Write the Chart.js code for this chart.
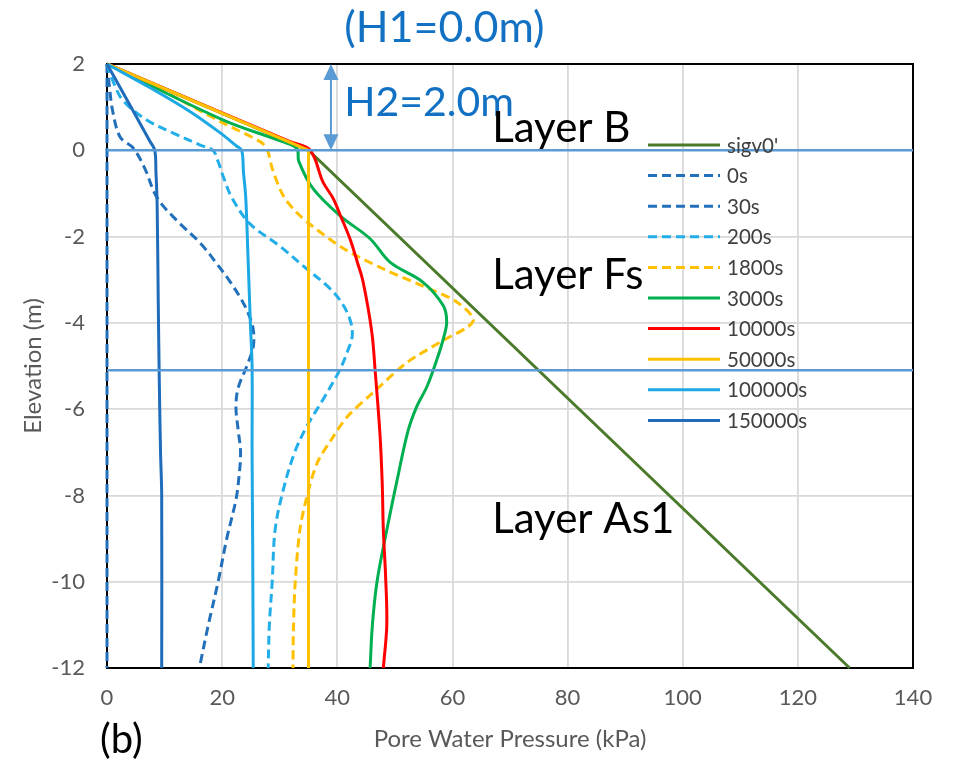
<!DOCTYPE html>
<html>
<head>
<meta charset="utf-8">
<script src="https://cdn.jsdelivr.net/npm/chart.js@4.4.0/dist/chart.umd.min.js"></script>
<style>
  html, body { margin: 0; padding: 0; background: #ffffff; }
  canvas { display: block; }
</style>
</head>
<body>
<canvas id="chart" width="953" height="766"></canvas>
<script>
// Pore water pressure profiles: [pressure kPa, elevation m]
const sigv0 = [[0, 2], [35, 0], [129, -12]];
const t0s = [[0, 2], [0, -12]];
const t30s = [[0, 2], [0.4, 1.5], [1.0, 0.9], [2.3, 0.3], [4.5, 0.06], [6.5, -0.4], [8.7, -1.1], [12.3, -1.65],
  [16.2, -2.15], [19.2, -2.65], [21.4, -3.05], [23.3, -3.45], [24.6, -3.8], [25.4, -4.15], [25.4, -4.55],
  [24.3, -5.0], [22.8, -5.5], [22.4, -5.95], [22.8, -6.5], [23.2, -7.0], [22.9, -7.6], [22.4, -8.1],
  [20.8, -9.0], [19.3, -10.0], [17.6, -11.0], [16.2, -11.9]];
const t200s = [[0, 2], [1.2, 1.55], [2.8, 1.15], [6.9, 0.7], [11.5, 0.4], [16.2, 0.12], [18.4, 0.0],
  [19.3, -0.26], [20.3, -0.65], [21.7, -1.1], [24.8, -1.7], [29.8, -2.2], [34.7, -2.75], [38.3, -3.15],
  [40.6, -3.5], [42.2, -3.92], [42.6, -4.3], [41.8, -4.65], [40.4, -5.1], [37.5, -5.78], [34.7, -6.4],
  [32.6, -7.0], [30.6, -7.88], [29.2, -8.8], [28.7, -10.0], [28.2, -11.0], [28.0, -12.0]];
const t1800s = [[0, 2], [8.7, 1.45], [20.2, 0.63], [26.6, 0.2], [27.8, 0.03], [28.7, -0.42], [30.6, -1.05],
  [33.0, -1.45], [35.3, -1.72], [41.0, -2.27], [48.0, -2.75], [54.9, -3.15], [60.8, -3.52], [63.6, -3.96],
  [57.8, -4.45], [52.1, -4.92], [46.2, -5.62], [41.7, -6.18], [39.0, -6.7], [36.5, -7.25], [34.7, -8.04],
  [33.5, -8.8], [32.7, -10.0], [32.4, -11.0], [32.3, -12.0]];
const t3000s = [[0, 2], [20.2, 0.7], [30.5, 0.2], [33.0, 0.04], [33.3, -0.25], [35.8, -0.89], [40.5, -1.52],
  [45.7, -2.05], [49.2, -2.6], [54.9, -3.06], [58.4, -3.6], [59.0, -3.98], [58.4, -4.38], [57.3, -4.85],
  [55.6, -5.47], [53.8, -5.94], [52.3, -6.5], [50.4, -7.64], [48.6, -8.8], [46.9, -10.0], [46.1, -11.0],
  [45.7, -12.0]];
const t10000s = [[0, 2], [31.8, 0.2], [35.3, 0], [37.5, -0.73], [39.3, -1.12], [40.5, -1.5], [42.2, -2.05],
  [43.5, -2.6], [44.5, -3.06], [46.0, -4.22], [46.6, -5.15], [47.4, -6.55], [47.8, -7.7], [48.0, -8.8],
  [48.4, -9.9], [48.6, -11.0], [48.0, -12.0]];
const t50000s = [[0, 2], [35, 0], [35, -12]];
const t100000s = [[0, 2], [7.5, 1.45], [14.4, 0.9], [19.5, 0.42], [22.5, 0.1], [23.4, 0.0], [23.7, -0.5],
  [24.1, -1.1], [24.5, -2.5], [24.9, -4.0], [25.2, -5.0], [25.2, -7.0], [25.3, -9.0], [25.4, -12.0]];
const t150000s = [[0, 2], [7.5, 0.2], [8.3, 0], [8.5, -0.5], [8.7, -1.2], [8.9, -3.5], [9.1, -5.5],
  [9.3, -7.0], [9.5, -8.0], [9.5, -12.0]];

// Layer boundaries (elevation, m)
const layerBounds = [0, -5.1];

// Axis ranges and ticks
const xTicks = [0, 20, 40, 60, 80, 100, 120, 140];
const yTicks = [2, 0, -2, -4, -6, -8, -10, -12];

// Series styling
const seriesList = [
  { label: "sigv0'",  pts: sigv0,    color: '#4B7A2A', dash: [],     tension: 0 },
  { label: '0s',      pts: t0s,      color: '#2270BA', dash: [9, 5], tension: 0 },
  { label: '30s',     pts: t30s,     color: '#2270BA', dash: [9, 5], tension: 0.35 },
  { label: '200s',    pts: t200s,    color: '#22AEE8', dash: [9, 5], tension: 0.35 },
  { label: '1800s',   pts: t1800s,   color: '#FFC000', dash: [9, 5], tension: 0.3 },
  { label: '3000s',   pts: t3000s,   color: '#00B050', dash: [],     tension: 0.35 },
  { label: '10000s',  pts: t10000s,  color: '#FF0000', dash: [],     tension: 0.35 },
  { label: '50000s',  pts: t50000s,  color: '#FFC000', dash: [],     tension: 0 },
  { label: '100000s', pts: t100000s, color: '#1CA8E4', dash: [],     tension: 0.35 },
  { label: '150000s', pts: t150000s, color: '#1E6CBA', dash: [],     tension: 0.35 }
];

const FONT = "Lato, 'Open Sans', sans-serif";
const BOUND_COLOR = '#5B9BD5';

const datasets = seriesList.map((s, i) => ({
  label: s.label,
  data: s.pts.map(p => ({ x: p[0], y: p[1] })),
  borderColor: s.color,
  backgroundColor: s.color,
  borderWidth: 3,
  borderDash: s.dash,
  tension: s.tension,
  showLine: true,
  pointRadius: 0,
  fill: false,
  clip: 4,
  order: -i
}));

layerBounds.forEach(e => {
  datasets.push({
    label: 'boundary',
    data: [{ x: 0, y: e }, { x: 140, y: e }],
    borderColor: BOUND_COLOR,
    borderWidth: 2.5,
    showLine: true,
    pointRadius: 0,
    tension: 0,
    clip: 4,
    order: -100
  });
});

// Black frame round the plot area
const framePlugin = {
  id: 'frame',
  beforeDatasetsDraw(chart) {
    const { ctx, chartArea: a } = chart;
    ctx.save();
    ctx.strokeStyle = '#000000';
    ctx.lineWidth = 2;
    ctx.strokeRect(a.left, a.top, a.right - a.left, a.bottom - a.top);
    ctx.restore();
  }
};

// Legend drawn inside the plot area
const legendPlugin = {
  id: 'innerLegend',
  afterDatasetsDraw(chart) {
    const { ctx, chartArea: a } = chart;
    const x0 = a.left + 541, y0 = a.top + 81, dy = 30.6;
    ctx.save();
    ctx.font = `20.5px ${FONT}`;
    ctx.textBaseline = 'middle';
    ctx.textAlign = 'left';
    seriesList.forEach((s, i) => {
      const y = y0 + i * dy;
      ctx.strokeStyle = s.color;
      ctx.lineWidth = 3;
      ctx.setLineDash(s.dash);
      ctx.beginPath();
      ctx.moveTo(x0, y);
      ctx.lineTo(x0 + 72, y);
      ctx.stroke();
      ctx.setLineDash([]);
      ctx.fillStyle = '#404040';
      ctx.fillText(s.label, x0 + 79, y + 1);
    });
    ctx.restore();
  }
};

// Layer names, water level notes and the H2 arrow
const notesPlugin = {
  id: 'notes',
  afterDatasetsDraw(chart) {
    const { ctx } = chart;
    const xs = chart.scales.x, ys = chart.scales.y;
    ctx.save();

    // double-headed arrow spanning H2
    const ax = xs.getPixelForValue(38.9);
    const aTop = ys.getPixelForValue(2), aBot = ys.getPixelForValue(0);
    ctx.strokeStyle = BOUND_COLOR;
    ctx.fillStyle = BOUND_COLOR;
    ctx.lineWidth = 2;
    ctx.beginPath();
    ctx.moveTo(ax, aTop + 12);
    ctx.lineTo(ax, aBot - 12);
    ctx.stroke();
    ctx.beginPath();
    ctx.moveTo(ax, aTop); ctx.lineTo(ax - 7.5, aTop + 16); ctx.lineTo(ax + 7.5, aTop + 16); ctx.closePath();
    ctx.fill();
    ctx.beginPath();
    ctx.moveTo(ax, aBot); ctx.lineTo(ax - 7.5, aBot - 16); ctx.lineTo(ax + 7.5, aBot - 16); ctx.closePath();
    ctx.fill();

    ctx.textBaseline = 'alphabetic';
    ctx.fillStyle = '#1271C2';
    ctx.font = `43px ${FONT}`;
    ctx.textAlign = 'center';
    ctx.fillText('(H1=0.0m)', xs.getPixelForValue(58.6), aTop - 22);
    ctx.textAlign = 'left';
    ctx.font = `41px ${FONT}`;
    ctx.fillText('H2=2.0m', xs.getPixelForValue(41.2), ys.getPixelForValue(0.79));

    ctx.fillStyle = '#000000';
    ctx.font = `42px ${FONT}`;
    const lx = xs.getPixelForValue(66.9);
    ctx.fillText('Layer B', lx, ys.getPixelForValue(0.19));
    ctx.fillText('Layer Fs', lx, ys.getPixelForValue(-3.22));
    ctx.fillText('Layer As1', lx, ys.getPixelForValue(-8.87));

    ctx.font = `40px ${FONT}`;
    ctx.fillText('(b)', 100, 753);
    ctx.restore();
  }
};

new Chart(document.getElementById('chart'), {
  type: 'scatter',
  data: { datasets },
  options: {
    responsive: false,
    animation: false,
    events: [],
    layout: { padding: { top: 64, right: 40, left: 0, bottom: 0 } },
    plugins: { legend: { display: false }, tooltip: { enabled: false } },
    scales: {
      x: {
        type: 'linear',
        min: xTicks[0],
        max: xTicks[xTicks.length - 1],
        afterBuildTicks: s => { s.ticks = xTicks.map(v => ({ value: v })); },
        afterFit: s => { s.height = 98; },
        ticks: { color: '#595959', font: { family: FONT, size: 22 }, padding: 17, maxRotation: 0 },
        grid: { color: '#D9D9D9', lineWidth: 1.8, drawTicks: false },
        border: { display: false },
        title: {
          display: true, text: 'Pore Water Pressure (kPa)', color: '#595959',
          font: { family: FONT, size: 24 }, padding: { top: 0, bottom: 12 }
        }
      },
      y: {
        type: 'linear',
        min: yTicks[yTicks.length - 1],
        max: yTicks[0],
        afterBuildTicks: s => { s.ticks = yTicks.slice().reverse().map(v => ({ value: v })); },
        afterFit: s => { s.width = 107; },
        ticks: { color: '#595959', font: { family: FONT, size: 22 }, padding: 22 },
        grid: { color: '#D9D9D9', lineWidth: 1.8, drawTicks: false },
        border: { display: false },
        title: {
          display: true, text: 'Elevation (m)', color: '#595959',
          font: { family: FONT, size: 24 }, padding: { top: 19, bottom: 0 }
        }
      }
    }
  },
  plugins: [framePlugin, legendPlugin, notesPlugin]
});
</script>
</body>
</html>
